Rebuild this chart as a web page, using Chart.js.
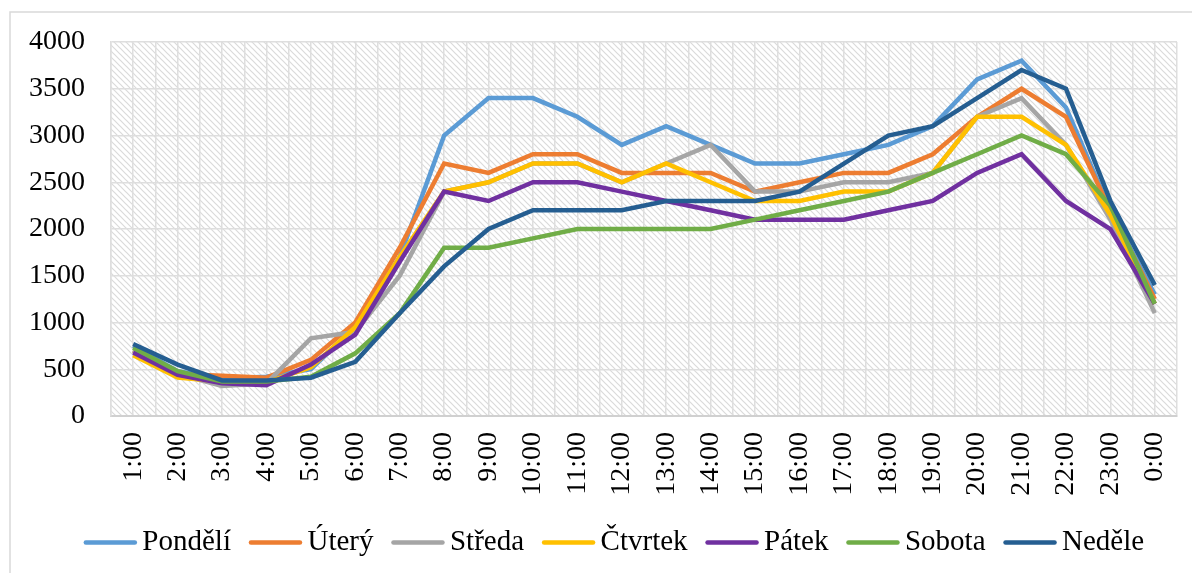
<!DOCTYPE html>
<html>
<head>
<meta charset="utf-8">
<script src="https://cdn.jsdelivr.net/npm/chart.js@4"></script>
<style>
  html, body { margin: 0; padding: 0; background: #fff; }
  #wrap { width: 1192px; height: 573px; }
</style>
</head>
<body>
<div id="wrap"><canvas id="myChart" width="1192" height="573"></canvas></div>
<script>
// hodiny dne
var hours = ['1:00','2:00','3:00','4:00','5:00','6:00','7:00','8:00','9:00','10:00','11:00','12:00',
             '13:00','14:00','15:00','16:00','17:00','18:00','19:00','20:00','21:00','22:00','23:00','0:00'];

var pondeli = [750, 480, 400, 420, 500, 950, 1700, 3000, 3400, 3400, 3200, 2900, 3100, 2900, 2700, 2700, 2800, 2900, 3100, 3600, 3800, 3300, 2200, 1300];
var utery   = [700, 450, 430, 410, 600, 1000, 1800, 2700, 2600, 2800, 2800, 2600, 2600, 2600, 2400, 2500, 2600, 2600, 2800, 3200, 3500, 3200, 2200, 1250];
var streda  = [700, 450, 320, 350, 830, 900, 1500, 2400, 2500, 2700, 2700, 2500, 2700, 2900, 2400, 2400, 2500, 2500, 2600, 3200, 3400, 2900, 2100, 1100];
var ctvrtek = [650, 410, 370, 360, 520, 950, 1700, 2400, 2500, 2700, 2700, 2500, 2700, 2500, 2300, 2300, 2400, 2400, 2600, 3200, 3200, 2900, 2150, 1200];
var patek   = [680, 440, 350, 330, 550, 870, 1650, 2400, 2300, 2500, 2500, 2400, 2300, 2200, 2100, 2100, 2100, 2200, 2300, 2600, 2800, 2300, 2000, 1200];
var sobota  = [730, 480, 370, 370, 420, 670, 1100, 1800, 1800, 1900, 2000, 2000, 2000, 2000, 2100, 2200, 2300, 2400, 2600, 2800, 3000, 2800, 2250, 1200];
var nedele  = [770, 550, 380, 380, 410, 580, 1100, 1600, 2000, 2200, 2200, 2200, 2300, 2300, 2300, 2400, 2700, 3000, 3100, 3400, 3700, 3500, 2300, 1400];

var yTicks = [0, 500, 1000, 1500, 2000, 2500, 3000, 3500, 4000];

var FONT = "'Liberation Serif', 'Times New Roman', serif";
var LEGEND_LINE = 53;

// sraffovane pozadi plochy grafu
function makeHatch(ctx) {
  var c = document.createElement('canvas');
  c.width = 6; c.height = 6;
  var g = c.getContext('2d');
  g.fillStyle = '#ffffff';
  g.fillRect(0, 0, 6, 6);
  g.strokeStyle = '#dadada';
  g.lineWidth = 1.2;
  g.beginPath();
  g.moveTo(-1, -1); g.lineTo(7, 7);
  g.moveTo(-4, 2); g.lineTo(1, 7);
  g.moveTo(5, -1); g.lineTo(8, 2);
  g.stroke();
  return ctx.createPattern(c, 'repeat');
}

var bgPlugin = {
  id: 'bg',
  // popisky osy y nesmi byt orezane
  afterLayout: function (chart) {
    var y = chart.scales.y;
    y.left = 0;
    y.width = y.right;
  },
  beforeDraw: function (chart) {
    var ctx = chart.ctx, a = chart.chartArea;
    ctx.save();
    ctx.fillStyle = makeHatch(ctx);
    ctx.fillRect(a.left, a.top, a.right - a.left, a.bottom - a.top);
    // ramecek grafu
    ctx.strokeStyle = '#d9d9d9';
    ctx.lineWidth = 1.5;
    ctx.beginPath();
    ctx.moveTo(10, chart.height + 5);
    ctx.lineTo(10, 12);
    ctx.lineTo(chart.width + 5, 12);
    ctx.stroke();
    ctx.restore();
  },
  // carky v legende (delsi nez box Chart.js)
  afterDraw: function (chart) {
    var lg = chart.legend, ctx = chart.ctx;
    if (!lg || !lg.legendHitBoxes) return;
    ctx.save();
    ctx.lineWidth = 4.5;
    ctx.lineCap = 'round';
    lg.legendItems.forEach(function (item, i) {
      var hb = lg.legendHitBoxes[i];
      var y = hb.top + hb.height / 2;
      ctx.strokeStyle = chart.data.datasets[item.datasetIndex].borderColor;
      ctx.beginPath();
      ctx.moveTo(hb.left + 2, y);
      ctx.lineTo(hb.left + LEGEND_LINE - 2, y);
      ctx.stroke();
    });
    ctx.restore();
  }
};

function series(label, data, color, i) {
  return {
    label: label, data: data, borderColor: color, backgroundColor: color,
    borderWidth: 4.5, pointRadius: 0, tension: 0, fill: false,
    order: 10 - i, xAxisID: 'x', yAxisID: 'y'
  };
}

var chart = new Chart('myChart', {
  type: 'line',
  data: {
    labels: hours,
    datasets: [
      series('Pondělí', pondeli, '#5B9BD5', 0),
      series('Úterý', utery, '#ED7D31', 1),
      series('Středa', streda, '#A5A5A5', 2),
      series('Čtvrtek', ctvrtek, '#FFC000', 3),
      series('Pátek', patek, '#7030A0', 4),
      series('Sobota', sobota, '#70AD47', 5),
      series('Neděle', nedele, '#255E91', 6)
    ]
  },
  options: {
    responsive: false,
    animation: false,
    layout: { padding: { left: 51, right: 15, top: 42, bottom: 6 } },
    plugins: {
      tooltip: { enabled: false },
      legend: {
        position: 'bottom',
        labels: {
          font: { family: FONT, size: 29 },
          color: '#000',
          boxWidth: 44,
          boxHeight: 1,
          padding: 18,
          sort: function (a, b) { return a.datasetIndex - b.datasetIndex; },
          generateLabels: function (chart) {
            var items = Chart.defaults.plugins.legend.labels.generateLabels(chart);
            items.forEach(function (it) {
              it.fillStyle = 'rgba(0,0,0,0)';
              it.strokeStyle = 'rgba(0,0,0,0)';
              it.lineWidth = 0;
            });
            return items;
          }
        }
      }
    },
    scales: {
      x: {
        type: 'category',
        offset: true,
        afterFit: function (s) { s.height = 94; s.paddingLeft = 0; s.paddingRight = 0; },
        grid: { offset: true, color: '#dedede', lineWidth: 1.5, drawTicks: false },
        border: { color: '#d0d0d0', width: 2 },
        ticks: {
          font: { family: FONT, size: 28 }, color: '#000',
          minRotation: 90, maxRotation: 90, padding: 16, autoSkip: false
        }
      },
      x2: {
        type: 'category',
        position: 'top',
        offset: true,
        afterFit: function (s) { s.height = 0; s.paddingLeft = 0; s.paddingRight = 0; },
        grid: { offset: false, color: '#dedede', lineWidth: 1.5, drawTicks: false },
        border: { display: false },
        ticks: { display: false }
      },
      y: {
        min: 0, max: 4000,
        afterFit: function (s) { s.width = 60; s.paddingTop = 0; s.paddingBottom = 0; },
        afterBuildTicks: function (s) { s.ticks = yTicks.map(function (v) { return { value: v }; }); },
        grid: { color: '#dedede', lineWidth: 1.5, drawTicks: false },
        border: { color: '#dedede', width: 1.5 },
        ticks: {
          font: { family: FONT, size: 28 }, color: '#000', padding: 26,
          callback: function (v) { return String(v); }
        }
      }
    }
  },
  plugins: [bgPlugin]
});
</script>
</body>
</html>
